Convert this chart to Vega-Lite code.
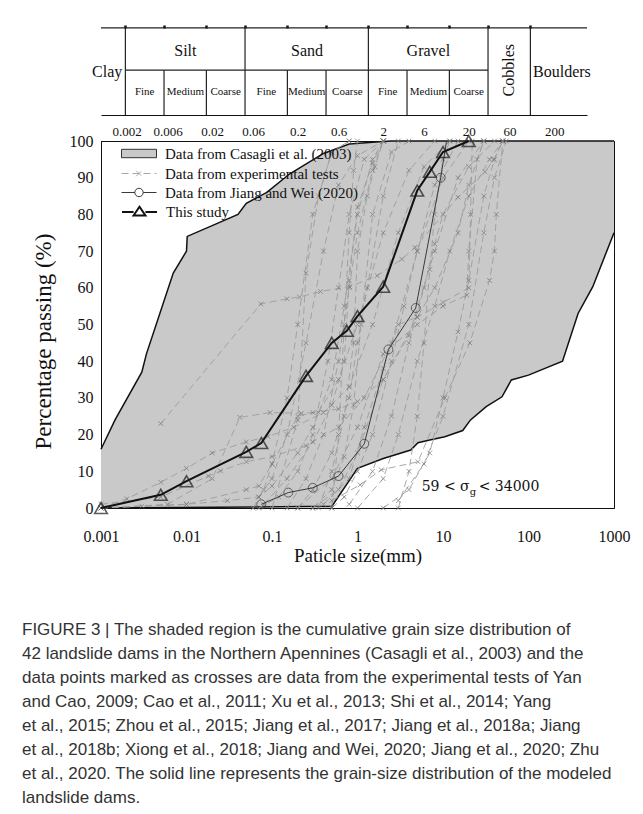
{
  "$schema": "https://vega.github.io/schema/vega-lite/v6.json",
  "width": 513,
  "height": 367,
  "autosize": {"type": "none"},
  "padding": {"left": 101, "top": 141, "right": 29, "bottom": 306},
  "background": "white",
  "config": {
    "font": "Liberation Serif",
    "view": {"stroke": "#111", "strokeWidth": 1},
    "axis": {"grid": false, "domainColor": "#111", "tickColor": "#111", "labelFont": "Liberation Serif", "titleFont": "Liberation Serif", "labelColor": "#111", "titleColor": "#111", "titleFontWeight": "normal"},
    "legend": {"labelFont": "Liberation Serif", "labelLimit": 0, "orient": "none", "title": null, "labelFontSize": 15, "labelColor": "#111", "symbolSize": 196, "labelOffset": 29, "legendX": 20}
  },
  "title": {
    "text": [
      "FIGURE 3 | The shaded region is the cumulative grain size distribution of",
      "42 landslide dams in the Northern Apennines (Casagli et al., 2003) and the",
      "data points marked as crosses are data from the experimental tests of Yan",
      "and Cao, 2009; Cao et al., 2011; Xu et al., 2013; Shi et al., 2014; Yang",
      "et al., 2015; Zhou et al., 2015; Jiang et al., 2017; Jiang et al., 2018a; Jiang",
      "et al., 2018b; Xiong et al., 2018; Jiang and Wei, 2020; Jiang et al., 2020; Zhu",
      "et al., 2020. The solid line represents the grain-size distribution of the modeled",
      "landslide dams."
    ],
    "orient": "bottom",
    "anchor": "start",
    "frame": "group",
    "dx": -79,
    "offset": 57,
    "font": "Liberation Sans Narrow, Liberation Sans",
    "fontSize": 17,
    "fontWeight": "normal",
    "color": "#333",
    "lineHeight": 24,
    "baseline": "top"
  },
  "datasets": {
    "casUpper": [
      {"size": 0.001, "pct": 16}, {"size": 0.00146, "pct": 24}, {"size": 0.003, "pct": 37}, {"size": 0.0034, "pct": 42},
      {"size": 0.007, "pct": 64}, {"size": 0.01, "pct": 70}, {"size": 0.0102, "pct": 74}, {"size": 0.04, "pct": 80},
      {"size": 0.05, "pct": 83}, {"size": 0.087, "pct": 86}, {"size": 0.16, "pct": 91}, {"size": 0.4, "pct": 96.6},
      {"size": 0.8, "pct": 99.2}, {"size": 1.8, "pct": 99.8}, {"size": 2.5, "pct": 100}, {"size": 1000, "pct": 100}
    ],
    "casLower": [
      {"size": 0.001, "pct": 0}, {"size": 0.25, "pct": 0.4}, {"size": 0.5, "pct": 0.4}, {"size": 1.0, "pct": 10.8},
      {"size": 2.0, "pct": 13.5}, {"size": 4.2, "pct": 15.8}, {"size": 5.1, "pct": 17.8}, {"size": 7, "pct": 18.5},
      {"size": 10.5, "pct": 19.4}, {"size": 17, "pct": 21.1}, {"size": 21, "pct": 24}, {"size": 32, "pct": 27.6},
      {"size": 49, "pct": 30.3}, {"size": 63, "pct": 34.9}, {"size": 100, "pct": 36.2}, {"size": 250, "pct": 40},
      {"size": 380, "pct": 53}, {"size": 565, "pct": 60.3}, {"size": 1000, "pct": 75}
    ],
    "exp": [
      {"test": 1, "size": 0.005, "pct": 23}, {"test": 1, "size": 0.074, "pct": 55.6}, {"test": 1, "size": 0.15, "pct": 57}, {"test": 1, "size": 0.21, "pct": 57.5}, {"test": 1, "size": 0.37, "pct": 59}, {"test": 1, "size": 0.81, "pct": 60.3}, {"test": 1, "size": 1.7, "pct": 63.3}, {"test": 1, "size": 3.3, "pct": 67.8}, {"test": 1, "size": 4.7, "pct": 71}, {"test": 1, "size": 15, "pct": 84.7}, {"test": 1, "size": 31, "pct": 91.6}, {"test": 1, "size": 39, "pct": 94.8}, {"test": 1, "size": 50, "pct": 100},
      {"test": 2, "size": 0.001, "pct": 0}, {"test": 2, "size": 0.002, "pct": 2.5}, {"test": 2, "size": 0.005, "pct": 7}, {"test": 2, "size": 0.01, "pct": 10.8}, {"test": 2, "size": 0.02, "pct": 15}, {"test": 2, "size": 0.05, "pct": 18}, {"test": 2, "size": 0.09, "pct": 19.5}, {"test": 2, "size": 0.18, "pct": 22}, {"test": 2, "size": 0.4, "pct": 26}, {"test": 2, "size": 0.8, "pct": 33}, {"test": 2, "size": 1.5, "pct": 50}, {"test": 2, "size": 3, "pct": 75}, {"test": 2, "size": 6, "pct": 93}, {"test": 2, "size": 12, "pct": 100},
      {"test": 3, "size": 0.001, "pct": 1}, {"test": 3, "size": 0.005, "pct": 3}, {"test": 3, "size": 0.018, "pct": 8.7}, {"test": 3, "size": 0.025, "pct": 10.1}, {"test": 3, "size": 0.05, "pct": 12.6}, {"test": 3, "size": 0.1, "pct": 14}, {"test": 3, "size": 0.25, "pct": 17}, {"test": 3, "size": 0.6, "pct": 22}, {"test": 3, "size": 1.2, "pct": 30}, {"test": 3, "size": 2.5, "pct": 45}, {"test": 3, "size": 5, "pct": 70}, {"test": 3, "size": 10, "pct": 90}, {"test": 3, "size": 20, "pct": 100},
      {"test": 4, "size": 0.001, "pct": 0}, {"test": 4, "size": 0.01, "pct": 1}, {"test": 4, "size": 0.05, "pct": 5}, {"test": 4, "size": 0.07, "pct": 6}, {"test": 4, "size": 0.1, "pct": 12}, {"test": 4, "size": 0.2, "pct": 25}, {"test": 4, "size": 0.3, "pct": 26}, {"test": 4, "size": 0.6, "pct": 27}, {"test": 4, "size": 1, "pct": 29}, {"test": 4, "size": 2, "pct": 35}, {"test": 4, "size": 4, "pct": 47}, {"test": 4, "size": 8, "pct": 70}, {"test": 4, "size": 15, "pct": 90}, {"test": 4, "size": 30, "pct": 100},
      {"test": 5, "size": 0.001, "pct": 0}, {"test": 5, "size": 0.006, "pct": 1}, {"test": 5, "size": 0.02, "pct": 8}, {"test": 5, "size": 0.042, "pct": 24.7}, {"test": 5, "size": 0.095, "pct": 26}, {"test": 5, "size": 0.22, "pct": 25.8}, {"test": 5, "size": 0.35, "pct": 26.1}, {"test": 5, "size": 0.6, "pct": 35}, {"test": 5, "size": 1, "pct": 50}, {"test": 5, "size": 2, "pct": 75}, {"test": 5, "size": 4, "pct": 92}, {"test": 5, "size": 8, "pct": 100},
      {"test": 6, "size": 0.06, "pct": 0}, {"test": 6, "size": 0.08, "pct": 5}, {"test": 6, "size": 0.1, "pct": 12}, {"test": 6, "size": 0.15, "pct": 30}, {"test": 6, "size": 0.2, "pct": 50}, {"test": 6, "size": 0.3, "pct": 80}, {"test": 6, "size": 0.5, "pct": 97}, {"test": 6, "size": 0.8, "pct": 100},
      {"test": 7, "size": 0.1, "pct": 0}, {"test": 7, "size": 0.2, "pct": 24}, {"test": 7, "size": 0.25, "pct": 64}, {"test": 7, "size": 0.35, "pct": 85}, {"test": 7, "size": 0.5, "pct": 97}, {"test": 7, "size": 0.8, "pct": 100},
      {"test": 8, "size": 0.15, "pct": 0}, {"test": 8, "size": 0.25, "pct": 8}, {"test": 8, "size": 0.4, "pct": 20}, {"test": 8, "size": 0.6, "pct": 40}, {"test": 8, "size": 0.8, "pct": 60}, {"test": 8, "size": 1, "pct": 75}, {"test": 8, "size": 1.5, "pct": 92}, {"test": 8, "size": 2, "pct": 100},
      {"test": 9, "size": 0.2, "pct": 0}, {"test": 9, "size": 0.3, "pct": 5}, {"test": 9, "size": 0.5, "pct": 15}, {"test": 9, "size": 0.8, "pct": 30}, {"test": 9, "size": 1, "pct": 45}, {"test": 9, "size": 1.3, "pct": 60}, {"test": 9, "size": 2, "pct": 85}, {"test": 9, "size": 3, "pct": 100},
      {"test": 10, "size": 0.3, "pct": 0}, {"test": 10, "size": 0.5, "pct": 5}, {"test": 10, "size": 0.7, "pct": 14}, {"test": 10, "size": 0.9, "pct": 28}, {"test": 10, "size": 1.1, "pct": 50}, {"test": 10, "size": 1.5, "pct": 80}, {"test": 10, "size": 2.5, "pct": 97}, {"test": 10, "size": 4, "pct": 100},
      {"test": 11, "size": 0.08, "pct": 1}, {"test": 11, "size": 0.15, "pct": 8}, {"test": 11, "size": 0.3, "pct": 18}, {"test": 11, "size": 0.5, "pct": 28}, {"test": 11, "size": 0.7, "pct": 40}, {"test": 11, "size": 0.8, "pct": 62}, {"test": 11, "size": 1, "pct": 82}, {"test": 11, "size": 1.5, "pct": 94}, {"test": 11, "size": 2, "pct": 100},
      {"test": 12, "size": 0.5, "pct": 0}, {"test": 12, "size": 0.7, "pct": 3}, {"test": 12, "size": 1, "pct": 10}, {"test": 12, "size": 1.5, "pct": 20}, {"test": 12, "size": 2.5, "pct": 40}, {"test": 12, "size": 3.5, "pct": 55}, {"test": 12, "size": 5, "pct": 70}, {"test": 12, "size": 8, "pct": 88}, {"test": 12, "size": 15, "pct": 100},
      {"test": 13, "size": 0.4, "pct": 1}, {"test": 13, "size": 0.8, "pct": 8}, {"test": 13, "size": 1.2, "pct": 22}, {"test": 13, "size": 2, "pct": 38}, {"test": 13, "size": 3, "pct": 50}, {"test": 13, "size": 5, "pct": 52}, {"test": 13, "size": 8, "pct": 60}, {"test": 13, "size": 15, "pct": 75}, {"test": 13, "size": 20, "pct": 88}, {"test": 13, "size": 30, "pct": 100},
      {"test": 14, "size": 0.5, "pct": 2}, {"test": 14, "size": 1.07, "pct": 6.3}, {"test": 14, "size": 1.9, "pct": 10.4}, {"test": 14, "size": 5.1, "pct": 12.6}, {"test": 14, "size": 10.5, "pct": 30}, {"test": 14, "size": 20.6, "pct": 45}, {"test": 14, "size": 35, "pct": 62}, {"test": 14, "size": 40, "pct": 70}, {"test": 14, "size": 42, "pct": 80}, {"test": 14, "size": 50, "pct": 100},
      {"test": 15, "size": 0.3, "pct": 0}, {"test": 15, "size": 0.6, "pct": 5}, {"test": 15, "size": 1, "pct": 15}, {"test": 15, "size": 2, "pct": 35}, {"test": 15, "size": 5, "pct": 52}, {"test": 15, "size": 10, "pct": 56}, {"test": 15, "size": 20, "pct": 60}, {"test": 15, "size": 21, "pct": 80}, {"test": 15, "size": 22, "pct": 100},
      {"test": 16, "size": 0.2, "pct": 0}, {"test": 16, "size": 0.5, "pct": 8}, {"test": 16, "size": 1, "pct": 22}, {"test": 16, "size": 2, "pct": 42}, {"test": 16, "size": 5, "pct": 50}, {"test": 16, "size": 10, "pct": 55}, {"test": 16, "size": 19, "pct": 58}, {"test": 16, "size": 20, "pct": 70}, {"test": 16, "size": 25, "pct": 95}, {"test": 16, "size": 30, "pct": 100},
      {"test": 17, "size": 2, "pct": 0}, {"test": 17, "size": 4, "pct": 5}, {"test": 17, "size": 7, "pct": 15}, {"test": 17, "size": 10, "pct": 30}, {"test": 17, "size": 15, "pct": 48}, {"test": 17, "size": 20, "pct": 62}, {"test": 17, "size": 30, "pct": 85}, {"test": 17, "size": 40, "pct": 95}, {"test": 17, "size": 50, "pct": 100},
      {"test": 18, "size": 1, "pct": 0}, {"test": 18, "size": 2, "pct": 8}, {"test": 18, "size": 3, "pct": 20}, {"test": 18, "size": 5, "pct": 40}, {"test": 18, "size": 8, "pct": 55}, {"test": 18, "size": 12, "pct": 70}, {"test": 18, "size": 20, "pct": 85}, {"test": 18, "size": 35, "pct": 95}, {"test": 18, "size": 50, "pct": 100},
      {"test": 19, "size": 0.8, "pct": 1}, {"test": 19, "size": 1.5, "pct": 10}, {"test": 19, "size": 2.5, "pct": 25}, {"test": 19, "size": 4, "pct": 45}, {"test": 19, "size": 6, "pct": 60}, {"test": 19, "size": 8, "pct": 72}, {"test": 19, "size": 10, "pct": 80}, {"test": 19, "size": 20, "pct": 93}, {"test": 19, "size": 40, "pct": 100},
      {"test": 20, "size": 0.07, "pct": 3}, {"test": 20, "size": 0.1, "pct": 8}, {"test": 20, "size": 0.15, "pct": 20}, {"test": 20, "size": 0.25, "pct": 45}, {"test": 20, "size": 0.4, "pct": 70}, {"test": 20, "size": 0.6, "pct": 88}, {"test": 20, "size": 1, "pct": 96}, {"test": 20, "size": 2, "pct": 100},
      {"test": 21, "size": 0.07, "pct": 0}, {"test": 21, "size": 0.12, "pct": 3}, {"test": 21, "size": 0.2, "pct": 10}, {"test": 21, "size": 0.3, "pct": 20}, {"test": 21, "size": 0.45, "pct": 40}, {"test": 21, "size": 0.6, "pct": 60}, {"test": 21, "size": 0.8, "pct": 80}, {"test": 21, "size": 1.2, "pct": 95}, {"test": 21, "size": 2, "pct": 100},
      {"test": 22, "size": 0.35, "pct": 0}, {"test": 22, "size": 0.5, "pct": 10}, {"test": 22, "size": 0.7, "pct": 25}, {"test": 22, "size": 0.9, "pct": 45}, {"test": 22, "size": 1, "pct": 70}, {"test": 22, "size": 1.3, "pct": 85}, {"test": 22, "size": 1.6, "pct": 93}, {"test": 22, "size": 2, "pct": 100},
      {"test": 23, "size": 0.5, "pct": 0}, {"test": 23, "size": 0.6, "pct": 20}, {"test": 23, "size": 0.7, "pct": 50}, {"test": 23, "size": 0.8, "pct": 75}, {"test": 23, "size": 0.9, "pct": 92}, {"test": 23, "size": 1, "pct": 100},
      {"test": 24, "size": 3, "pct": 0}, {"test": 24, "size": 4, "pct": 10}, {"test": 24, "size": 5, "pct": 25}, {"test": 24, "size": 6, "pct": 45}, {"test": 24, "size": 7, "pct": 65}, {"test": 24, "size": 8, "pct": 80}, {"test": 24, "size": 10, "pct": 95}, {"test": 24, "size": 12, "pct": 100},
      {"test": 25, "size": 0.001, "pct": 0}, {"test": 25, "size": 0.003, "pct": 0.5}, {"test": 25, "size": 0.01, "pct": 1}, {"test": 25, "size": 0.03, "pct": 2}, {"test": 25, "size": 0.07, "pct": 3}, {"test": 25, "size": 0.1, "pct": 6}, {"test": 25, "size": 0.2, "pct": 15}, {"test": 25, "size": 0.3, "pct": 22}, {"test": 25, "size": 0.5, "pct": 35}, {"test": 25, "size": 0.7, "pct": 55}, {"test": 25, "size": 1, "pct": 80}, {"test": 25, "size": 1.5, "pct": 95}, {"test": 25, "size": 2, "pct": 100},
      {"test": 26, "size": 3, "pct": 2}, {"test": 26, "size": 6, "pct": 12}, {"test": 26, "size": 10, "pct": 25}, {"test": 26, "size": 20, "pct": 50}, {"test": 26, "size": 30, "pct": 75}, {"test": 26, "size": 40, "pct": 90}, {"test": 26, "size": 55, "pct": 100}
    ],
    "jiang": [
      {"size": 0.075, "pct": 1}, {"size": 0.155, "pct": 4.2}, {"size": 0.3, "pct": 5.5}, {"size": 0.6, "pct": 8.7},
      {"size": 1.2, "pct": 17.5}, {"size": 2.3, "pct": 43.2}, {"size": 4.8, "pct": 54.5}, {"size": 9.4, "pct": 90}, {"size": 11, "pct": 100}
    ],
    "study": [
      {"size": 0.001, "pct": 0}, {"size": 0.005, "pct": 3.6}, {"size": 0.01, "pct": 7.3}, {"size": 0.05, "pct": 15.3},
      {"size": 0.075, "pct": 17.7}, {"size": 0.25, "pct": 36}, {"size": 0.5, "pct": 45}, {"size": 0.75, "pct": 48.3},
      {"size": 1, "pct": 52.3}, {"size": 2, "pct": 60.3}, {"size": 5, "pct": 86.5}, {"size": 7, "pct": 91.6},
      {"size": 10, "pct": 97}, {"size": 20, "pct": 100}
    ],
    "classes": [
      {"label": "Silt", "size": 0.011}, {"label": "Sand", "size": 0.35}, {"label": "Gravel", "size": 11}
    ],
    "sideClasses": [
      {"label": "Clay", "size": 0.00119}, {"label": "Boulders", "size": 490}
    ],
    "subClasses": [
      {"label": "Fine", "size": 0.00346}, {"label": "Medium", "size": 0.011}, {"label": "Coarse", "size": 0.0346},
      {"label": "Fine", "size": 0.11}, {"label": "Medium", "size": 0.346}, {"label": "Coarse", "size": 1.1},
      {"label": "Fine", "size": 3.46}, {"label": "Medium", "size": 11}, {"label": "Coarse", "size": 34.6}
    ],
    "majorBounds": [{"size": 0.002}, {"size": 0.06}, {"size": 2}, {"size": 60}, {"size": 200}],
    "minorBounds": [{"size": 0.006}, {"size": 0.02}, {"size": 0.2}, {"size": 0.6}, {"size": 6}, {"size": 20}]
  },
  "layer": [
    {
      "layer": [
        {
          "data": {"name": "casUpper"},
          "mark": {"type": "area"},
          "encoding": {
            "x": {
              "field": "size", "type": "quantitative",
              "scale": {"type": "log", "domain": [0.001, 1000]},
              "axis": {
                "orient": "bottom",
                "values": [0.001,0.002,0.003,0.004,0.005,0.006,0.007,0.008,0.009,0.01,0.02,0.03,0.04,0.05,0.06,0.07,0.08,0.09,0.1,0.2,0.3,0.4,0.5,0.6,0.7,0.8,0.9,1,2,3,4,5,6,7,8,9,10,20,30,40,50,60,70,80,90,100,200,300,400,500,600,700,800,900,1000],
                "labelExpr": "abs(log(datum.value)/LN10 - round(log(datum.value)/LN10)) < 1e-6 ? '' + datum.value : ''",
                "labelFontSize": 16, "labelPadding": 20, "labelOverlap": false, "labelFlush": false,
                "tickSize": 0,
                "encode": {"ticks": {"update": {"y2": {"signal": "abs(log(datum.value)/LN10 - round(log(datum.value)/LN10)) < 1e-6 ? -8 : -4"}}}},
                "title": "Paticle size(mm)", "titleFontSize": 19, "titlePadding": 2
              }
            },
            "y": {
              "field": "pct", "type": "quantitative",
              "scale": {"domain": [0, 100], "nice": false},
              "axis": {
                "orient": "left",
                "values": [0, 10, 20, 30, 40, 50, 60, 70, 80, 90, 100],
                "labelFontSize": 16, "labelPadding": 8, "labelOverlap": false,
                "tickSize": 0,
                "encode": {"ticks": {"update": {"x2": {"value": 8}}}},
                "title": "Percentage passing (%)", "titleFontSize": 23, "titlePadding": 14, "titleY": 200
              }
            },
            "fill": {
              "datum": "Data from Casagli et al. (2003)",
              "scale": {"range": ["#c9c9c9"]},
              "legend": {"legendY": 5, "symbolType": "M-1,-0.6H4V0.6H-1Z", "symbolStrokeColor": "#333", "symbolStrokeWidth": 1}
            }
          }
        },
        {
          "data": {"name": "casLower"},
          "mark": {"type": "area", "color": "white"},
          "encoding": {
            "x": {"field": "size", "type": "quantitative", "axis": null},
            "y": {
              "field": "pct", "type": "quantitative",
              "axis": {
                "orient": "left",
                "values": [0,2,4,6,8,10,12,14,16,18,20,22,24,26,28,30,32,34,36,38,40,42,44,46,48,50,52,54,56,58,60,62,64,66,68,70,72,74,76,78,80,82,84,86,88,90,92,94,96,98,100],
                "labels": false, "domain": false, "title": null, "tickSize": 0,
                "encode": {"ticks": {"update": {"x2": {"value": 4}}}}
              }
            }
          }
        },
        {
          "data": {"name": "casUpper"},
          "mark": {"type": "line", "color": "#111", "strokeWidth": 1.5},
          "encoding": {
            "x": {"field": "size", "type": "quantitative", "axis": null},
            "y": {"field": "pct", "type": "quantitative", "axis": null}
          }
        },
        {
          "data": {"name": "casLower"},
          "mark": {"type": "line", "color": "#111", "strokeWidth": 1.5},
          "encoding": {
            "x": {"field": "size", "type": "quantitative", "axis": null},
            "y": {"field": "pct", "type": "quantitative", "axis": null}
          }
        },
        {
          "data": {"name": "exp"},
          "mark": {"type": "line", "strokeWidth": 1, "color": "#9a9a9a", "opacity": 0.85},
          "encoding": {
            "x": {
              "field": "size", "type": "quantitative",
              "axis": {
                "orient": "top",
                "values": [0.001,0.002,0.003,0.004,0.005,0.006,0.007,0.008,0.009,0.01,0.02,0.03,0.04,0.05,0.06,0.07,0.08,0.09,0.1,0.2,0.3,0.4,0.5,0.6,0.7,0.8,0.9,1,2,3,4,5,6,7,8,9,10,20,30,40,50,60,70,80,90,100,200,300,400,500,600,700,800,900,1000],
                "labelExpr": "indexof([0.002,0.006,0.02,0.06,0.2,0.6,2,6,20,60,200], datum.value) >= 0 ? '' + datum.value : ''",
                "labelFontSize": 13, "labelPadding": 3, "labelOverlap": false, "labelFlush": false,
                "tickSize": 0,
                "encode": {"ticks": {"update": {"y2": {"signal": "abs(log(datum.value)/LN10 - round(log(datum.value)/LN10)) < 1e-6 ? -7 : -4"}}}},
                "title": null
              }
            },
            "y": {"field": "pct", "type": "quantitative", "axis": null},
            "detail": {"field": "test"},
            "strokeDash": {
              "datum": "Data from experimental tests",
              "scale": {"range": [[7, 4]]},
              "legend": {"legendY": 25, "symbolType": "M-1,0H4M1.1,-0.4L1.9,0.4M1.1,0.4L1.9,-0.4", "symbolStrokeColor": "#999", "symbolStrokeWidth": 1}
            }
          }
        },
        {
          "data": {"name": "exp"},
          "mark": {"type": "point", "shape": "M-1,-1L1,1M-1,1L1,-1", "size": 22, "filled": false, "color": "#777", "strokeWidth": 1},
          "encoding": {
            "x": {"field": "size", "type": "quantitative", "axis": null},
            "y": {"field": "pct", "type": "quantitative", "axis": null}
          }
        },
        {
          "data": {"name": "jiang"},
          "mark": {"type": "line", "strokeWidth": 1},
          "encoding": {
            "x": {"field": "size", "type": "quantitative", "axis": null},
            "y": {"field": "pct", "type": "quantitative", "axis": null},
            "stroke": {
              "datum": "Data from Jiang and Wei (2020)",
              "scale": {"range": ["#3a3a3a"]},
              "legend": {"legendY": 44, "symbolType": "M-1,0H0.9M2.1,0H4M0.9,0A0.6,0.6 0 1,0 2.1,0A0.6,0.6 0 1,0 0.9,0", "symbolStrokeWidth": 1, "symbolFillColor": "transparent"}
            }
          }
        },
        {
          "data": {"name": "jiang"},
          "transform": [{"filter": "datum.pct < 99"}],
          "mark": {"type": "point", "shape": "circle", "size": 80, "filled": false, "color": "#333", "strokeWidth": 1},
          "encoding": {
            "x": {"field": "size", "type": "quantitative", "axis": null},
            "y": {"field": "pct", "type": "quantitative", "axis": null}
          }
        },
        {
          "data": {"name": "study"},
          "mark": {"type": "line", "color": "#111"},
          "encoding": {
            "x": {"field": "size", "type": "quantitative", "axis": null},
            "y": {"field": "pct", "type": "quantitative", "axis": null},
            "strokeWidth": {
              "datum": "This study",
              "scale": {"range": [2, 2]},
              "legend": {"legendY": 63, "symbolType": "M-1,0H0.65M2.35,0H4M0.65,0.5L1.5,-0.75L2.35,0.5Z", "symbolStrokeColor": "#111", "symbolFillColor": "transparent", "symbolSize": 196}
            }
          }
        },
        {
          "data": {"name": "study"},
          "mark": {"type": "point", "shape": "triangle-up", "size": 160, "filled": false, "color": "#1a1a1a", "strokeWidth": 1.6},
          "encoding": {
            "x": {"field": "size", "type": "quantitative", "axis": null},
            "y": {"field": "pct", "type": "quantitative", "axis": null}
          }
        },
        {
          "data": {"values": [{}]},
          "mark": {"type": "text", "text": "59 < σ", "align": "right", "baseline": "middle", "font": "DejaVu Serif", "fontSize": 14, "color": "#111"},
          "encoding": {
            "x": {"datum": 20.5, "type": "quantitative", "axis": null},
            "y": {"datum": 5.7, "type": "quantitative", "axis": null}
          }
        },
        {
          "data": {"values": [{}]},
          "mark": {"type": "text", "text": "g", "align": "left", "baseline": "middle", "dx": 0, "dy": 5, "font": "DejaVu Serif", "fontSize": 10, "color": "#111"},
          "encoding": {
            "x": {"datum": 20.5, "type": "quantitative", "axis": null},
            "y": {"datum": 5.7, "type": "quantitative", "axis": null}
          }
        },
        {
          "data": {"values": [{}]},
          "mark": {"type": "text", "text": "< 34000", "align": "left", "baseline": "middle", "dx": 9, "font": "DejaVu Serif", "fontSize": 14, "color": "#111"},
          "encoding": {
            "x": {"datum": 20.5, "type": "quantitative", "axis": null},
            "y": {"datum": 5.7, "type": "quantitative", "axis": null}
          }
        }
      ],
      "resolve": {"axis": {"x": "independent", "y": "independent"}}
    },
    {
      "layer": [
        {
          "data": {"name": "majorBounds"},
          "mark": {"type": "rule", "color": "#222", "strokeWidth": 1.2},
          "encoding": {
            "x": {
              "field": "size", "type": "quantitative",
              "scale": {"type": "log", "domain": [0.001, 1000], "range": [0, 486]},
              "axis": {
                "orient": "top", "offset": 26,
                "values": [0.001,0.002,0.003,0.004,0.005,0.006,0.007,0.008,0.009,0.01,0.02,0.03,0.04,0.05,0.06,0.07,0.08,0.09,0.1,0.2,0.3,0.4,0.5,0.6,0.7,0.8,0.9,1,2,3,4,5,6,7,8,9,10,20,30,40,50,60,70,80,90,100,200,300,400,500,600,700,800,900,1000],
                "labels": false, "tickSize": 0, "title": null,
                "encode": {"ticks": {"update": {"y2": {"signal": "abs(log(datum.value)/LN10 - round(log(datum.value)/LN10)) < 1e-6 ? 7 : 4"}}}}
              }
            },
            "y": {"datum": 107.1, "type": "quantitative", "scale": {"domain": [0, 100], "nice": false}, "axis": null},
            "y2": {"datum": 130.8}
          }
        },
        {
          "data": {"name": "minorBounds"},
          "mark": {"type": "rule", "color": "#222", "strokeWidth": 1.2},
          "encoding": {
            "x": {
              "field": "size", "type": "quantitative",
              "axis": {
                "orient": "top", "offset": 113,
                "values": [0.002, 0.006, 0.02, 0.06, 0.2, 0.6, 2, 6, 20, 60, 200],
                "labels": false, "tickSize": 3, "tickWidth": 2.5, "domain": false, "title": null
              }
            },
            "y": {"datum": 107.1, "type": "quantitative", "axis": null},
            "y2": {"datum": 119.3}
          }
        },
        {
          "data": {"values": [{}]},
          "mark": {"type": "rule", "color": "#222", "strokeWidth": 1.3},
          "encoding": {
            "x": {"datum": 0.001, "type": "quantitative", "axis": null},
            "x2": {"datum": 1000},
            "y": {"datum": 130.8, "type": "quantitative", "axis": null}
          }
        },
        {
          "data": {"values": [{}]},
          "mark": {"type": "rule", "color": "#222", "strokeWidth": 1.2},
          "encoding": {
            "x": {"datum": 0.002, "type": "quantitative", "axis": null},
            "x2": {"datum": 60},
            "y": {"datum": 119.3, "type": "quantitative", "axis": null}
          }
        },
        {
          "data": {"name": "classes"},
          "mark": {"type": "text", "font": "Liberation Serif", "fontSize": 16, "color": "#111", "baseline": "middle"},
          "encoding": {
            "x": {"field": "size", "type": "quantitative", "axis": null},
            "y": {"datum": 124.5, "type": "quantitative", "axis": null},
            "text": {"field": "label"}
          }
        },
        {
          "data": {"name": "sideClasses"},
          "mark": {"type": "text", "font": "Liberation Serif", "fontSize": 16, "color": "#111", "baseline": "middle"},
          "encoding": {
            "x": {"field": "size", "type": "quantitative", "axis": null},
            "y": {"datum": 118.8, "type": "quantitative", "axis": null},
            "text": {"field": "label"}
          }
        },
        {
          "data": {"values": [{"label": "Cobbles", "size": 110}]},
          "mark": {"type": "text", "font": "Liberation Serif", "fontSize": 16, "color": "#111", "baseline": "middle", "angle": 270},
          "encoding": {
            "x": {"field": "size", "type": "quantitative", "axis": null},
            "y": {"datum": 119.3, "type": "quantitative", "axis": null},
            "text": {"field": "label"}
          }
        },
        {
          "data": {"name": "subClasses"},
          "mark": {"type": "text", "font": "Liberation Serif", "fontSize": 11, "color": "#111", "baseline": "middle"},
          "encoding": {
            "x": {"field": "size", "type": "quantitative", "axis": null},
            "y": {"datum": 113.4, "type": "quantitative", "axis": null},
            "text": {"field": "label"}
          }
        }
      ],
      "resolve": {"axis": {"x": "independent"}}
    }
  ],
  "resolve": {"scale": {"x": "independent"}, "axis": {"x": "independent"}}
}
